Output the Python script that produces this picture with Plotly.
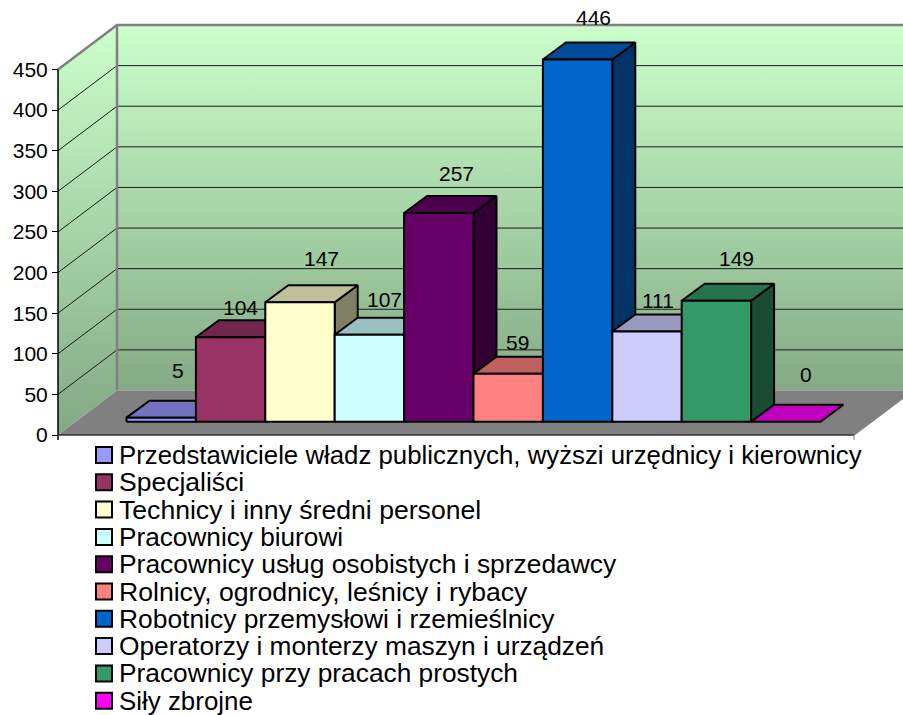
import plotly.graph_objects as go

# ---- data ----
categories = [
    "Przedstawiciele władz publicznych, wyższi urzędnicy i kierownicy",
    "Specjaliści",
    "Technicy i inny średni personel",
    "Pracownicy biurowi",
    "Pracownicy usług osobistych i sprzedawcy",
    "Rolnicy, ogrodnicy, leśnicy i rybacy",
    "Robotnicy przemysłowi i rzemieślnicy",
    "Operatorzy i monterzy maszyn i urządzeń",
    "Pracownicy przy pracach prostych",
    "Siły zbrojne",
]
values = [5, 104, 147, 107, 257, 59, 446, 111, 149, 0]
tick_values = [0, 50, 100, 150, 200, 250, 300, 350, 400, 450]
colors = ["#9999FF", "#993366", "#FFFFCC", "#CCFFFF", "#660066",
          "#FF8080", "#0066CC", "#CCCCFF", "#339966", "#FF00FF"]

# ---- layout geometry (pixels of the page) ----
W, H = 903, 715
X0_PX, BAR_W_PX = 126.5, 69.4      # left of first bar, width of one bar
Y0_PX, UNIT_PX = 435.0, 365.5 / 450  # value 0 on the front plane, px per unit
WALL_L, WALL_R = 58.0, 854.0
WALL_DX, WALL_DY = 59.0, 44.5
BAR_DX, BAR_DY = 23.0, 17.0
BASE_PX = 421.7
# label offsets from the centre of the bar's front top edge
label_dx = [17, 10, 21, 15, 18, 9, 16, 11, 20, 20]
label_dy = [46.7, 29.7, 43.7, 35.7, 39.7, 31.7, 41.7, 30.7, 41.7, 47.7]
# legend text sizes, row by row, to match the widths of the reference
legend_sizes = [25.8, 26.5, 26.6, 26.2, 26.4, 26.6, 26.4, 26.3, 26.3, 25.9]


def dx(p):
    return p / BAR_W_PX


def dy(p):
    return p / UNIT_PX


def xd(p):
    return (p - X0_PX) / BAR_W_PX


def yd(p):
    return (Y0_PX - p) / UNIT_PX


def shade(col, k):
    r, g, b = int(col[1:3], 16), int(col[3:5], 16), int(col[5:7], 16)
    return f"rgb({int(r*k)},{int(g*k)},{int(b*k)})"


fig = go.Figure()


def poly(xs, ys, fill=None, line=None, width=0, gradient=None):
    kw = dict(x=xs, y=ys, mode="lines", hoverinfo="skip", showlegend=False,
              line=dict(color=line or "rgba(0,0,0,0)", width=width))
    if fill or gradient:
        kw["fill"] = "toself"
    if fill:
        kw["fillcolor"] = fill
    if gradient:
        kw["fillgradient"] = gradient
    fig.add_trace(go.Scatter(**kw))


top_val = tick_values[-1]
xl, xr = xd(WALL_L), xd(WALL_R)
wx, wy = dx(WALL_DX), dy(WALL_DY)


def wall_grad(stop_px):
    return dict(type="vertical",
                colorscale=[[0, "#84A984"], [1, "#CCFFCC"]],
                start=yd(stop_px), stop=yd(25))


# back wall
poly([xl + wx, xr + wx, xr + wx, xl + wx, xl + wx],
     [wy, wy, top_val + wy, top_val + wy, wy], gradient=wall_grad(395))
# left wall
poly([xl, xl + wx, xl + wx, xl, xl],
     [0, wy, top_val + wy, top_val, 0], gradient=wall_grad(432))
# floor
poly([xl, xr, xr + wx, xl + wx, xl], [0, 0, wy, wy, 0], fill="#808080")

# gridlines
for v in tick_values[1:-1]:
    poly([xl, xl + wx, xr + wx], [v, v + wy, v + wy], line="#1a1a1a", width=1)

# wall frame
poly([xl, xl + wx, xr + wx], [top_val, top_val + wy, top_val + wy], line="#808080", width=2.5)
poly([xl + wx, xl + wx], [top_val + wy, wy], line="#808080", width=2.5)
poly([xr, xr + wx], [0, wy], line="#808080", width=1.5)

# axis lines
poly([xl, xl], [top_val, yd(440)], line="#000000", width=1.5)
poly([xl, xr], [0, 0], line="#333333", width=1.5)
poly([xr, xr], [0, yd(440)], line="#808080", width=1)

# bars
base = yd(BASE_PX)
ddx, ddy = dx(BAR_DX), dy(BAR_DY)
for i, (v, c) in enumerate(zip(values, colors)):
    x0, x1, top = i, i + 1, base + v
    if v > 0:
        poly([x1, x1 + ddx, x1 + ddx, x1, x1],
             [base, base + ddy, top + ddy, top, base],
             fill=shade(c, 0.5), line="#000000", width=2)
    poly([x0, x1, x1 + ddx, x0 + ddx, x0],
         [top, top, top + ddy, top + ddy, top],
         fill=shade(c, 0.75), line="#000000", width=2)
    if v > 0:
        poly([x0, x1, x1, x0, x0], [base, base, top, top, base],
             fill=c, line="#000000", width=2)

# value labels
for i, v in enumerate(values):
    fig.add_annotation(x=i + 0.5 + dx(label_dx[i]), y=base + v + dy(label_dy[i]),
                       xref="x", yref="y", text=str(v), showarrow=False,
                       font=dict(family="Liberation Sans", size=21, color="#000000"))

# legend
LEG_Y0, LEG_STEP = 455.0, 27.3
for i, (name, c) in enumerate(zip(categories, colors)):
    ypx = LEG_Y0 + LEG_STEP * i
    fig.add_trace(go.Scatter(x=[xd(104)], y=[yd(ypx)], mode="markers", hoverinfo="skip",
                             showlegend=False,
                             marker=dict(symbol="square", size=16, color=c,
                                         line=dict(color="#000000", width=2))))
    fig.add_annotation(x=xd(116.5), y=yd(ypx), xref="x", yref="y", text=name, showarrow=False,
                       xanchor="left", yanchor="middle",
                       font=dict(family="Liberation Sans", size=legend_sizes[i], color="#000000"))

fig.update_layout(
    width=W, height=H, margin=dict(l=0, r=0, t=0, b=0),
    paper_bgcolor="#FFFFFF", plot_bgcolor="#FFFFFF", showlegend=False,
    xaxis=dict(range=[xd(0), xd(W)], visible=False, domain=[0, 1], fixedrange=True),
    yaxis=dict(range=[yd(H), yd(0)], anchor="free", position=WALL_L / W,
               tickmode="array", tickvals=tick_values, ticktext=[str(t) for t in tick_values],
               ticks="outside", ticklen=6, tickcolor="#000000", tickwidth=1,
               showgrid=False, zeroline=False, showline=False, fixedrange=True,
               tickfont=dict(family="Liberation Sans", size=21, color="#000000")),
)
fig.write_html("out.html", config={"displayModeBar": False},
               post_script="document.body.style.margin='0';")
